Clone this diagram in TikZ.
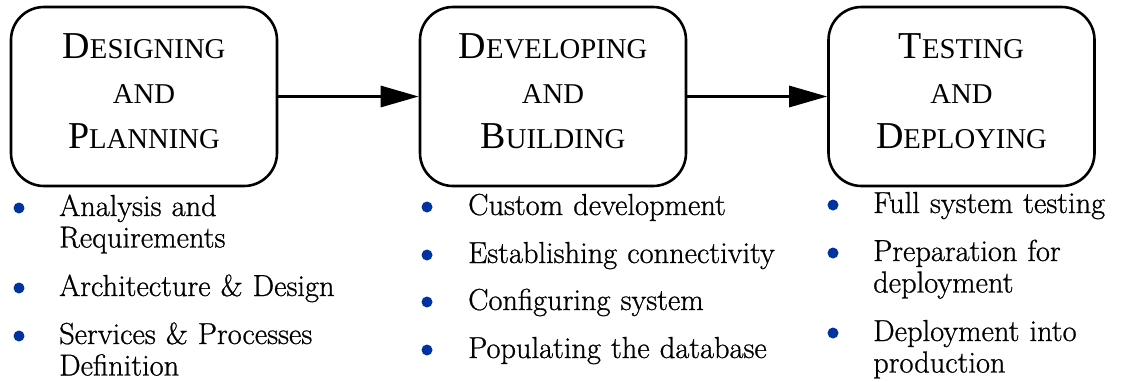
\documentclass[tikz,border=0pt]{standalone}
\usepackage{fontspec}
\newfontfamily\headfont{Liberation Serif}
\newfontfamily\listfont[FakeBold=0.8]{Latin Modern Roman}
\usetikzlibrary{arrows.meta}
\definecolor{bulletblue}{RGB}{0,51,160}
\newcommand\fakesc[2]{{\fontsize{38}{45}\selectfont #1}{\fontsize{28.7}{45}\selectfont #2}}
\newcommand\smallsc[1]{{\fontsize{28.7}{45}\selectfont #1}}
\newcommand\lift{\rule[-11pt]{0pt}{11pt}}
\begin{document}
\begin{tikzpicture}[x=1pt,y=1pt,
  phase/.style={draw, line width=2.6pt, rounded corners=33pt, minimum width=266pt,
    minimum height=179pt, inner sep=0pt, align=center,
    font={\headfont\fontsize{38}{45}\selectfont}},
  flow/.style={line width=3pt, -{Triangle[length=38pt,width=21pt]}},
  item/.style={anchor=base west, text width=400pt, align=left, inner sep=0pt,
    font={\listfont\fontsize{30.4}{31.5}\selectfont}},
  dot/.style={circle, fill=bulletblue, inner sep=0pt, minimum size=11pt}]
\useasboundingbox (0,0) rectangle (1121,-381);
\node[phase] (b1) at (144,-96.5) {\fakesc{D}{ESIGNING}\\ \smallsc{AND}\\ \fakesc{P}{LANNING}\lift};
\node[phase] (b2) at (553,-96.5) {\fakesc{D}{EVELOPING}\\ \smallsc{AND}\\ \fakesc{B}{UILDING}\lift};
\node[phase] (b3) at (961.5,-96.5) {\fakesc{T}{ESTING}\\ \smallsc{AND}\\ \fakesc{D}{EPLOYING}\lift};
\draw[flow] (b1.east) -- (b2.west);
\draw[flow] (b2.east) -- (b3.west);
% column 1
\node[dot] (d11) at (19,-208) {};
\node[item] (i11) at (59,-216) {Analysis and\\ Requirements};
\node[dot] (d12) at (19,-288) {};
\node[item] (i12) at (59,-296) {Architecture \& Design};
\node[dot] (d13) at (19,-336) {};
\node[item] (i13) at (59,-344) {Services \& Processes\\ Definition};
% column 2
\node[dot] (d21) at (427,-207) {};
\node[item] (i21) at (468,-215) {Custom development};
\node[dot] (d22) at (427,-255) {};
\node[item] (i22) at (468,-263) {Establishing connectivity};
\node[dot] (d23) at (427,-302) {};
\node[item] (i23) at (468,-310) {Configuring system};
\node[dot] (d24) at (427,-350) {};
\node[item] (i24) at (468,-358) {Populating the database};
% column 3
\node[dot] (d31) at (833,-205) {};
\node[item] (i31) at (873,-213) {Full system testing};
\node[dot] (d32) at (833,-253) {};
\node[item] (i32) at (873,-261) {Preparation for\\ deployment};
\node[dot] (d33) at (833,-333) {};
\node[item] (i33) at (873,-341) {Deployment into\\ production};
\end{tikzpicture}
\end{document}
